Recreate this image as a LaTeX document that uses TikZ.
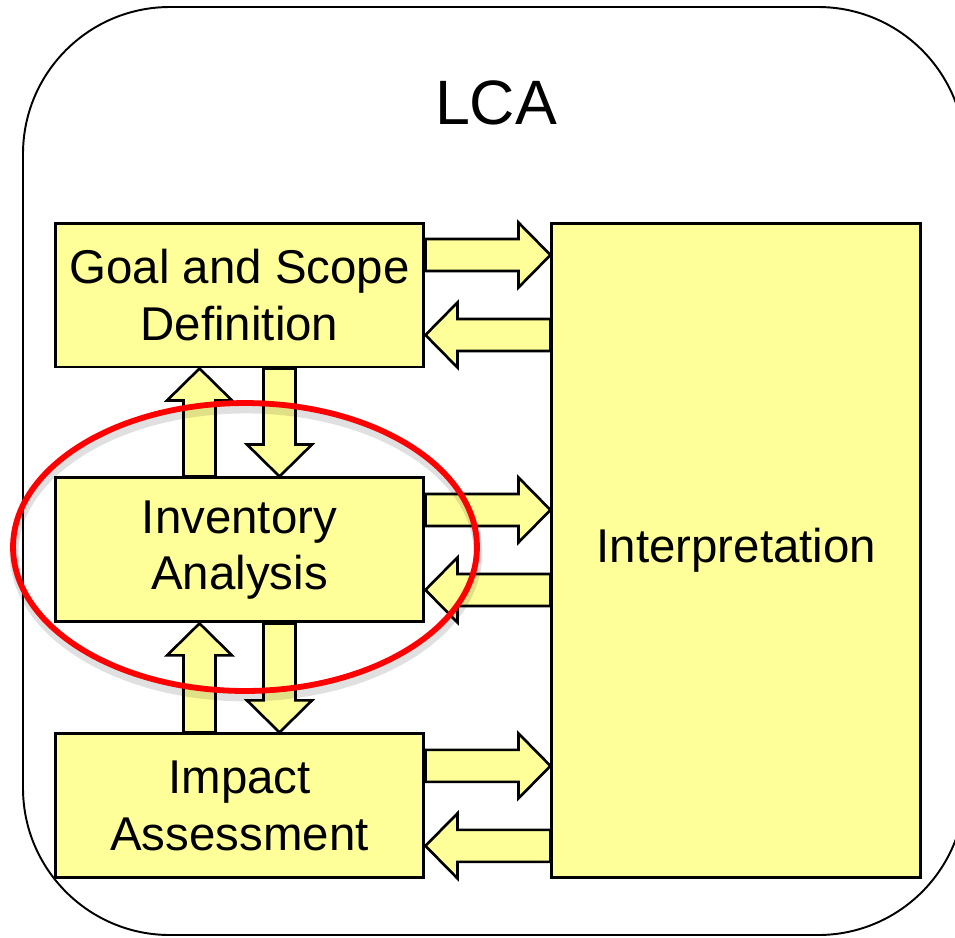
\documentclass[tikz,border=0pt]{standalone}
\usepackage{fontspec}
\setmainfont{Liberation Sans}
\usepackage{tikz}
\usetikzlibrary{calc, positioning}
\definecolor{boxyellow}{HTML}{FFFF99}

\begin{document}
\begin{tikzpicture}[x=0.02cm,y=-0.02cm,
  box/.style={draw,line width=1.7pt,fill=boxyellow,align=center,
    minimum width=7.38cm,minimum height=2.88cm,inner sep=0pt,
    font=\fontsize{27}{32}\selectfont},
  fat/.style={draw,line width=1.5pt,fill=boxyellow,line join=miter}]
  \useasboundingbox (0,0) rectangle (955,937);
  \clip (0,0) rectangle (955,937);

  \draw[line width=1.1pt,rounded corners=2.94cm] (23,7) rectangle (965,935);
  \node[anchor=base,font=\fontsize{35.7}{40}\selectfont] (lca) at (496,124) {LCA};

  \node[box]                          (goal)   at (239.5,295) {Goal and Scope\\Definition};
  \node[box,below=2.16cm of goal]     (inv)                   {Inventory\\Analysis};
  \node[box,below=2.18cm of inv]      (imp)                   {Impact\\Assessment};
  \node[box,right=2.5cm of goal.north east,anchor=north west,
    minimum height=13.1cm]            (interp)                {Interpretation};

  % side arrows
  \foreach \b/\n in {goal/g,inv/i,imp/m} {
    \coordinate (\n_r)  at ([yshift=8mm]\b.east);
    \coordinate (\n_ri) at (\n_r -| interp.west);
    \coordinate (\n_l)  at ([yshift=-8mm]\b.east);
    \coordinate (\n_li) at (\n_l -| interp.west);
  }
  % arrows between the boxes
  \coordinate (g_u)  at ([xshift=-8mm]inv.north);
  \coordinate (g_ui) at (g_u |- goal.south);
  \coordinate (g_d)  at ([xshift=8mm]goal.south);
  \coordinate (g_di) at (g_d |- inv.north);
  \coordinate (i_u)  at ([xshift=-8mm]imp.north);
  \coordinate (i_ui) at (i_u |- inv.south);
  \coordinate (i_d)  at ([xshift=8mm]inv.south);
  \coordinate (i_di) at (i_d |- imp.north);

  \foreach \s/\t in {g_r/g_ri,g_li/g_l,i_r/i_ri,i_li/i_l,m_r/m_ri,m_li/m_l,
                     g_u/g_ui,g_d/g_di,i_u/i_ui,i_d/i_di} {
    \coordinate (h) at ($(\t)!6.4mm!(\s)$);
    \draw[fat] ($(\s)!3.2mm!90:(\t)$) -- ($(h)!3.2mm!90:(\t)$)
      -- ($(h)!6.5mm!90:(\t)$) -- (\t) -- ($(h)!6.5mm!-90:(\t)$)
      -- ($(h)!3.2mm!-90:(\t)$) -- ($(\s)!3.2mm!-90:(\t)$) -- cycle;
  }

  % red ring round the inventory
  \draw[black,opacity=0.12,line width=5pt] (246,553) ellipse [x radius=4.64cm,y radius=2.88cm];
  \draw[red,line width=3.3pt] (245,547) ellipse [x radius=4.64cm,y radius=2.88cm];
\end{tikzpicture}
\end{document}
